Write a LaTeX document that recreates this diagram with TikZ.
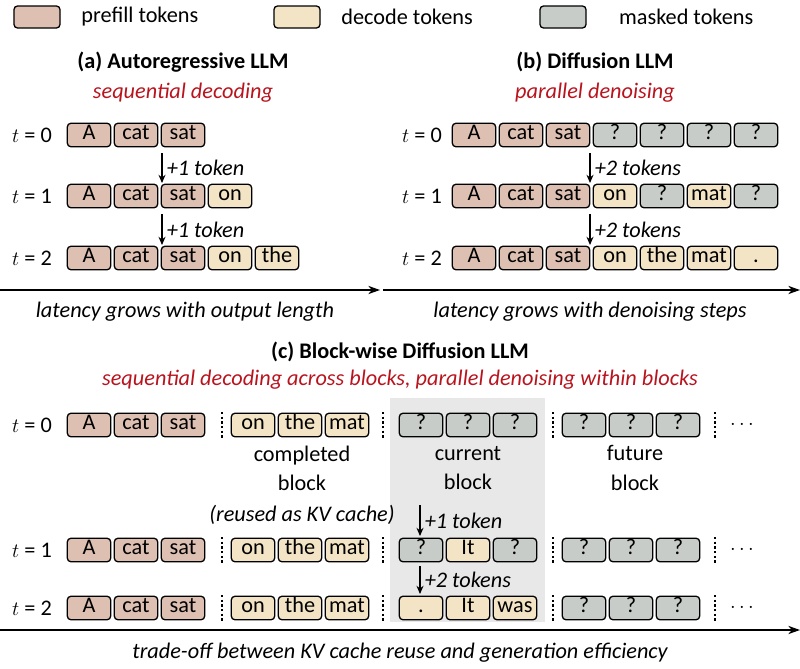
\documentclass[tikz,border=0pt]{standalone}
\usepackage{fontspec}
\setmainfont{Carlito}
\usetikzlibrary{arrows.meta,positioning}

\definecolor{prefill}{RGB}{222,192,178}
\definecolor{decode}{RGB}{242,228,196}
\definecolor{masked}{RGB}{200,204,200}
\definecolor{darkred}{RGB}{185,20,30}
\definecolor{blockbg}{RGB}{232,232,232}

\tikzset{
  tok/.style={draw, line width=1.1pt, rounded corners=3pt, minimum width=1.3cm,
    minimum height=0.66cm, inner sep=0pt, font=\fontsize{19}{20}\selectfont},
  pf/.style={tok, fill=prefill},
  dc/.style={tok, fill=decode},
  mk/.style={tok, fill=masked},
  lbl/.style={font=\fontsize{19}{22}\selectfont},
  itl/.style={font=\fontsize{19}{22}\selectfont\itshape},
  sub/.style={itl, text=darkred},
  ttl/.style={font=\fontsize{19}{22}\selectfont\bfseries},
  tstep/.style={-{Stealth[length=7pt,width=6pt]}, line width=1.5pt},
  axis/.style={-{Stealth[length=10pt,width=7pt]}, line width=1.6pt},
  sep/.style={line width=2pt, dash pattern=on 2pt off 2pt}
}

% a row of tokens: name prefix, y, x of first centre, list of style/text
\newcommand{\tokrow}[4]{
  \foreach \s/\t [count=\i] in {#4}
    \node[\s] (#1\i) at ({#3+(\i-1)*47},#2) {\strut\t};
}

\begin{document}
\begin{tikzpicture}[x=0.03cm,y=-0.03cm]
  \useasboundingbox (0,0) rectangle (800,669);

  % legend
  \node[pf, minimum width=1.38cm] (legpf) at (37,17) {};
  \node[lbl, right=0.5cm of legpf] {prefill tokens};
  \node[dc, minimum width=1.38cm] (legdc) at (297,17) {};
  \node[lbl, right=0.5cm of legdc] {decode tokens};
  \node[mk, minimum width=1.38cm] (legmk) at (563,17) {};
  \node[lbl, right=0.85cm of legmk] {masked tokens};

  % (a) autoregressive
  \node[ttl] (ta) at (183,62) {(a) Autoregressive LLM};
  \node[sub] (sa) at (183,93) {sequential decoding};
  \foreach \r/\y in {0/135,1/196,2/258}
    \node[lbl] (la\r) at (32,\y) {$t$ = \r};
  \tokrow{aa}{135}{89}{pf/A,pf/cat,pf/sat}
  \tokrow{ab}{196}{89}{pf/A,pf/cat,pf/sat,dc/on}
  \tokrow{ac}{258}{89}{pf/A,pf/cat,pf/sat,dc/on,dc/the}
  \coordinate (aa0) at (162,153); \coordinate (aa1) at (162,183);
  \coordinate (ab0) at (162,214); \coordinate (ab1) at (162,245);
  \draw[tstep] (aa0) -- (aa1) node[midway, right, itl] {+1 token};
  \draw[tstep] (ab0) -- (ab1) node[midway, right, itl] {+1 token};
  \coordinate (axa0) at (0,290); \coordinate (axa1) at (380,290);
  \draw[axis] (axa0) -- (axa1);
  \node[itl] (lata) at (185,312) {latency grows with output length};

  % (b) diffusion
  \node[ttl] (tb) at (595,62) {(b) Diffusion LLM};
  \node[sub] (sb) at (595,93) {parallel denoising};
  \foreach \r/\y in {0/135,1/196,2/258}
    \node[lbl] (lb\r) at (422,\y) {$t$ = \r};
  \tokrow{ba}{135}{474}{pf/A,pf/cat,pf/sat,mk/?,mk/?,mk/?,mk/?}
  \tokrow{bb}{196}{474}{pf/A,pf/cat,pf/sat,dc/on,mk/?,dc/mat,mk/?}
  \tokrow{bc}{258}{474}{pf/A,pf/cat,pf/sat,dc/on,dc/the,dc/mat,dc/.}
  \coordinate (ba0) at (590,153); \coordinate (ba1) at (590,183);
  \coordinate (bb0) at (590,214); \coordinate (bb1) at (590,245);
  \draw[tstep] (ba0) -- (ba1) node[midway, right, itl] {+2 tokens};
  \draw[tstep] (bb0) -- (bb1) node[midway, right, itl] {+2 tokens};
  \coordinate (axb0) at (383,290); \coordinate (axb1) at (800,290);
  \draw[axis] (axb0) -- (axb1);
  \node[itl] (latb) at (590,312) {latency grows with denoising steps};

  % (c) block-wise diffusion
  \fill[blockbg] (390,398) rectangle (545,622);
  \node[ttl] (tc) at (400,352) {(c) Block-wise Diffusion LLM};
  \node[sub] (sc) at (400,380) {sequential decoding across blocks, parallel denoising within blocks};
  \foreach \r/\y in {0/425,1/550,2/608}{
    \node[lbl] (lc\r) at (32,\y) {$t$ = \r};
    \foreach \xs in {222,383,553,715}
      \draw[sep] (\xs,{\y-13}) -- (\xs,{\y+13});
    \node[lbl] (dots\r) at (742,\y) {$\cdots$};
  }
  \tokrow{ca}{425}{89}{pf/A,pf/cat,pf/sat}
  \tokrow{cb}{550}{89}{pf/A,pf/cat,pf/sat}
  \tokrow{cc}{608}{89}{pf/A,pf/cat,pf/sat}
  \tokrow{cd}{425}{253}{dc/on,dc/the,dc/mat}
  \tokrow{ce}{550}{253}{dc/on,dc/the,dc/mat}
  \tokrow{cf}{608}{253}{dc/on,dc/the,dc/mat}
  \tokrow{cg}{425}{421}{mk/?,mk/?,mk/?}
  \tokrow{ch}{550}{421}{mk/?,dc/It,mk/?}
  \tokrow{ci}{608}{421}{dc/.,dc/It,dc/was}
  \tokrow{cj}{425}{584}{mk/?,mk/?,mk/?}
  \tokrow{ck}{550}{584}{mk/?,mk/?,mk/?}
  \tokrow{cl}{608}{584}{mk/?,mk/?,mk/?}
  \node[lbl, align=center] (done) at (302,468) {completed\\[3pt]block};
  \node[itl] (kv) at (302,515) {(reused as KV cache)};
  \node[lbl, align=center] (cur) at (468,468) {current\\[3pt]block};
  \node[lbl, align=center] (fut) at (635,468) {future\\[3pt]block};
  \coordinate (ca0) at (420,505); \coordinate (ca1) at (420,536);
  \coordinate (cb0) at (420,566); \coordinate (cb1) at (420,594);
  \draw[tstep] (ca0) -- (ca1) node[midway, right, itl] {+1 token};
  \draw[tstep] (cb0) -- (cb1) node[midway, right, itl] {+2 tokens};
  \coordinate (axc0) at (0,630); \coordinate (axc1) at (800,630);
  \draw[axis] (axc0) -- (axc1);
  \node[itl] (latc) at (400,653) {trade-off between KV cache reuse and generation efficiency};
\end{tikzpicture}
\end{document}
